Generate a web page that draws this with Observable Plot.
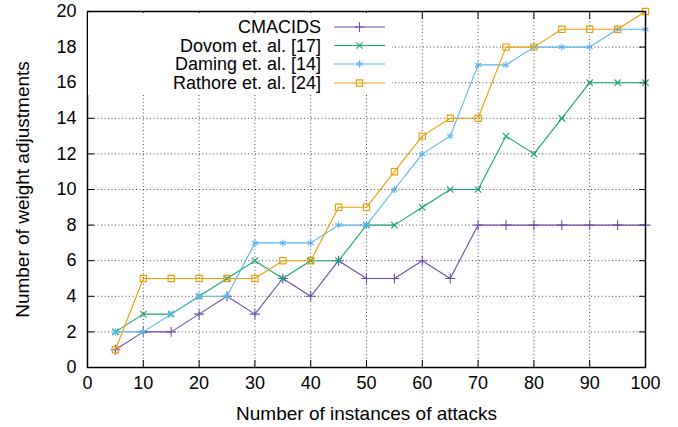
<!DOCTYPE html>
<html><head><meta charset="utf-8">
<script src="https://cdn.jsdelivr.net/npm/d3@7"></script>
<script src="https://cdn.jsdelivr.net/npm/@observablehq/plot@0.6"></script>
<style>
body{margin:0;background:#fff;}
#wrap{position:relative;width:678px;height:427px;}
</style></head><body><div id="wrap"></div>
<script>
// ---- data ----
const instances = [5,10,15,20,25,30,35,40,45,50,55,60,65,70,75,80,85,90,95,100];
const cmacids  = [1,2,2,3,4,3,5,4,6,5,5,6,5,8,8,8,8,8,8,8];
const dovom    = [2,3,3,4,5,6,5,6,6,8,8,9,10,10,13,12,14,16,16,16];
const daming   = [2,2,3,4,4,7,7,7,8,8,10,12,13,17,17,18,18,18,19,19];
const rathore  = [1,5,5,5,5,5,6,6,9,9,11,13,14,14,18,18,19,19,19,20];
const seriesNames = ["CMACIDS","Dovom et. al. [17]","Daming et. al. [14]","Rathore et. al. [24]"];
const seriesValues = [cmacids, dovom, daming, rathore];
const colors = ["#6a4ea5","#1aa37a","#56b4e9","#e69f00"];
const symbols = ["plus","times","asterisk","square2"];
const symbolR = [3.3, 3, 3.3, 4];
const xTicks = [0,10,20,30,40,50,60,70,80,90,100];
const yTicks = [0,2,4,6,8,10,12,14,16,18,20];
const xLabel = "Number of instances of attacks";
const yLabel = "Number of weight adjustments";

const rows = [];
seriesNames.forEach((name, i) => seriesValues[i].forEach((v, j) => rows.push({series: name, x: instances[j], y: v})));

const font = "'Liberation Sans', Arial, Helvetica, sans-serif";
const gridStyle = {stroke: "#000", strokeOpacity: 0.7, strokeDasharray: "1,2.5", strokeWidth: 1};

const seriesMarks = [];
seriesNames.forEach((name, i) => {
  const d = rows.filter(r => r.series === name);
  seriesMarks.push(Plot.line(d, {x: "x", y: "y", stroke: "series", strokeWidth: 1.1}));
  seriesMarks.push(Plot.dot(d, {x: "x", y: "y", stroke: "series", symbol: "series", r: symbolR[i], strokeWidth: 1.1}));
});

const chart = Plot.plot({
  width: 678, height: 427,
  marginLeft: 87, marginRight: 33, marginTop: 11, marginBottom: 60,
  style: {fontFamily: font, fontSize: "18px", background: "#fff", color: "#000"},
  x: {domain: [0, 100]},
  y: {domain: [0, 20]},
  color: {domain: seriesNames, range: colors},
  symbol: {domain: seriesNames, range: symbols},
  marks: [
    Plot.gridX(xTicks, gridStyle),
    Plot.gridY(yTicks, gridStyle),
    Plot.axisX(xTicks, {anchor: "bottom", tickSize: 0, tickPadding: 9, label: null, fontSize: 18}),
    Plot.axisY(yTicks, {anchor: "left", tickSize: 0, tickPadding: 11, label: null, fontSize: 18}),
    Plot.axisX({anchor: "bottom", ticks: [], label: xLabel, labelAnchor: "center", labelOffset: 52, labelArrow: "none", fontSize: 19}),
    Plot.axisY({anchor: "left", ticks: [], label: yLabel, labelAnchor: "center", labelOffset: 72, labelArrow: "none", fontSize: 19}),
    Plot.axisX(xTicks, {anchor: "bottom", tickSize: -7, tickFormat: () => "", label: null}),
    Plot.axisX(xTicks, {anchor: "top", tickSize: -7, tickFormat: () => "", label: null}),
    Plot.axisY(yTicks, {anchor: "left", tickSize: -7, tickFormat: () => "", label: null}),
    Plot.axisY(yTicks, {anchor: "right", tickSize: -7, tickFormat: () => "", label: null}),
    ...seriesMarks,
    Plot.frame({stroke: "#000", strokeWidth: 1.5})
  ]
});

// legend (opaque key box, inside top-left of the plot)
const svg = d3.select(chart);
const lg = svg.append("g").attr("class", "legend");
lg.append("rect").attr("x", 88).attr("y", 13).attr("width", 304).attr("height", 82).attr("fill", "#fff");
const rowY = [27, 45.5, 64, 83];
const symMap = {plus: d3.symbolPlus, times: d3.symbolTimes, asterisk: d3.symbolAsterisk, square2: d3.symbolSquare2};
seriesNames.forEach((name, i) => {
  const g = lg.append("g").attr("transform", `translate(0,${rowY[i]})`);
  g.append("text").attr("x", 321).attr("y", 0).attr("dy", "0.35em").attr("text-anchor", "end")
    .attr("font-family", font).attr("font-size", 18).attr("fill", "#000").text(name);
  g.append("line").attr("x1", 334).attr("x2", 385).attr("y1", 0).attr("y2", 0)
    .attr("stroke", colors[i]).attr("stroke-width", 1.1);
  g.append("path").attr("transform", "translate(359.5,0)")
    .attr("d", d3.symbol(symMap[symbols[i]], Math.PI * symbolR[i] * symbolR[i])())
    .attr("fill", "none").attr("stroke", colors[i]).attr("stroke-width", 1.1);
});

document.getElementById("wrap").appendChild(chart);
</script></body></html>
